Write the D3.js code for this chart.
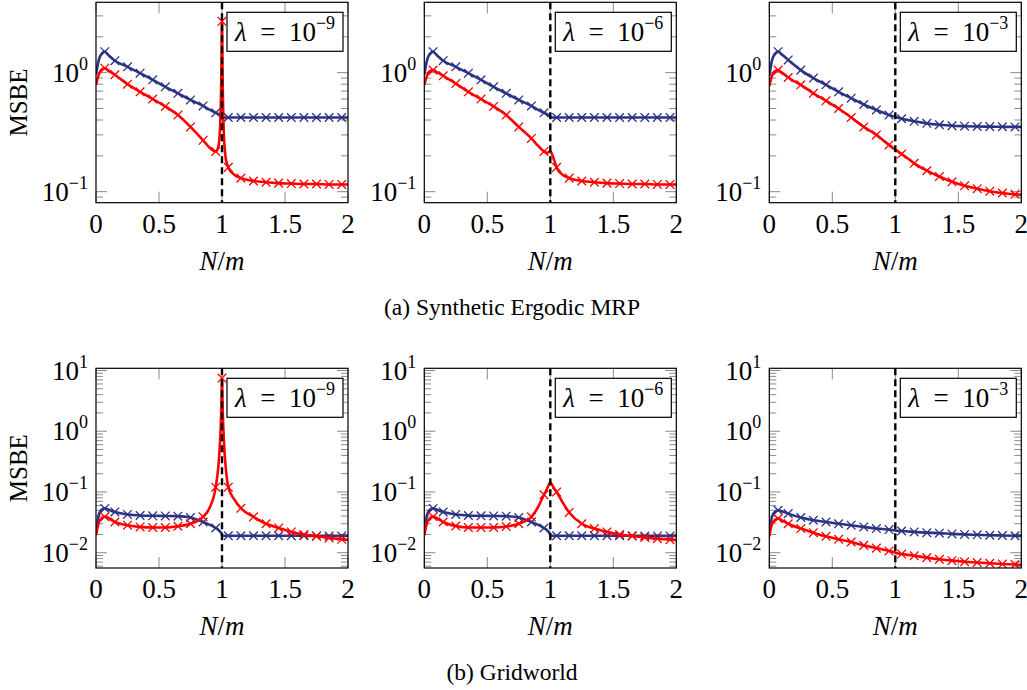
<!DOCTYPE html>
<html>
<head>
<meta charset="utf-8">
<script src="https://cdn.jsdelivr.net/npm/d3@7"></script>
<style>
  body { margin: 0; background: #fff; }
  text { font-family: "Liberation Serif", "Times New Roman", serif; fill: #000; }
</style>
</head>
<body>
<div id="main"></div>
<script>
// sample positions N/m shared by every curve
const xs = [0, 0.02, 0.04, 0.07, 0.1, 0.15, 0.25, 0.35, 0.45, 0.55, 0.65, 0.75, 0.85, 0.9, 0.95, 0.97,
            0.985, 0.995, 1.0, 1.005, 1.015, 1.03, 1.05, 1.1, 1.15, 1.25, 1.35, 1.45, 1.55, 1.65, 1.75,
            1.85, 1.95, 2.0];
// where the x markers sit
const markX = [0.07, 0.15, 0.25, 0.35, 0.45, 0.55, 0.65, 0.75, 0.85, 0.95,
               1.05, 1.15, 1.25, 1.35, 1.45, 1.55, 1.65, 1.75, 1.85, 1.95];
const xTicks = [0, 0.5, 1, 1.5, 2];
const lambdas = ["−9", "−6", "−3"];
const captions = ["(a) Synthetic Ergodic MRP", "(b) Gridworld"];

// (a) Synthetic Ergodic MRP
const a9Blue = [0.96, 1.25, 1.42, 1.5, 1.40, 1.26, 1.12, 0.99, 0.87, 0.76, 0.67, 0.59, 0.525, 0.49, 0.46, 0.45,
                0.44, 0.43, 0.425, 0.42, 0.42, 0.42, 0.42, 0.42, 0.42, 0.42, 0.42, 0.42, 0.42, 0.42, 0.42,
                0.42, 0.42, 0.42];
const a9Red  = [0.79, 0.95, 1.05, 1.09, 1.04, 0.96, 0.80, 0.69, 0.60, 0.52, 0.44, 0.35, 0.27, 0.235, 0.218, 0.235,
                0.35, 1.0, 2.7, 0.9, 0.3, 0.19, 0.16, 0.138, 0.13, 0.123, 0.12, 0.118, 0.117, 0.116, 0.116,
                0.115, 0.115, 0.115];
const a6Blue = [0.96, 1.25, 1.42, 1.5, 1.40, 1.26, 1.12, 0.99, 0.87, 0.76, 0.67, 0.59, 0.525, 0.49, 0.46, 0.45,
                0.44, 0.43, 0.425, 0.42, 0.42, 0.42, 0.42, 0.42, 0.42, 0.42, 0.42, 0.42, 0.42, 0.42, 0.42,
                0.42, 0.42, 0.42];
const a6Red  = [0.79, 0.93, 1.02, 1.05, 1.01, 0.94, 0.81, 0.69, 0.60, 0.52, 0.44, 0.35, 0.28, 0.245, 0.218, 0.212,
                0.214, 0.218, 0.218, 0.215, 0.205, 0.185, 0.16, 0.138, 0.13, 0.123, 0.12, 0.118, 0.117, 0.116, 0.116,
                0.115, 0.115, 0.115];
const a3Blue = [0.93, 1.25, 1.42, 1.5, 1.42, 1.28, 1.05, 0.90, 0.79, 0.69, 0.61, 0.54, 0.486, 0.462, 0.44, 0.434,
                0.43, 0.427, 0.425, 0.423, 0.42, 0.416, 0.41, 0.40, 0.39, 0.375, 0.365, 0.358, 0.355, 0.353, 0.352,
                0.351, 0.35, 0.35];
const a3Red  = [0.77, 0.93, 1.02, 1.05, 1.0, 0.91, 0.79, 0.67, 0.58, 0.50, 0.42, 0.35, 0.30, 0.272, 0.247, 0.238,
                0.232, 0.228, 0.226, 0.224, 0.22, 0.214, 0.207, 0.19, 0.173, 0.15, 0.134, 0.121, 0.112, 0.106, 0.101,
                0.0975, 0.095, 0.094];

// (b) Gridworld
const b9Blue = [0.0206, 0.040, 0.050, 0.0536, 0.051, 0.047, 0.0427, 0.041, 0.0405, 0.0403, 0.040, 0.038, 0.032, 0.029, 0.0255, 0.024,
                0.0222, 0.021, 0.0195, 0.019, 0.019, 0.019, 0.019, 0.019, 0.019, 0.019, 0.019, 0.019, 0.019, 0.019, 0.0189,
                0.0189, 0.0189, 0.0189];
const b9Red  = [0.0194, 0.030, 0.036, 0.039, 0.037, 0.032, 0.0284, 0.0266, 0.026, 0.026, 0.0273, 0.030, 0.039, 0.054, 0.12, 0.25,
                0.7, 2.5, 7.5, 2.5, 0.7, 0.25, 0.12, 0.074, 0.054, 0.039, 0.030, 0.0256, 0.022, 0.0199, 0.0187,
                0.0175, 0.0166, 0.0162];
const b6Blue = [0.0206, 0.040, 0.050, 0.0536, 0.051, 0.047, 0.0427, 0.041, 0.0405, 0.0403, 0.040, 0.038, 0.032, 0.029, 0.0255, 0.024,
                0.0222, 0.021, 0.0195, 0.019, 0.019, 0.019, 0.019, 0.019, 0.019, 0.019, 0.019, 0.019, 0.019, 0.019, 0.0189,
                0.0189, 0.0189, 0.0189];
const b6Red  = [0.0194, 0.030, 0.036, 0.039, 0.037, 0.032, 0.0275, 0.026, 0.026, 0.026, 0.027, 0.030, 0.039, 0.055, 0.09, 0.108,
                0.128, 0.14, 0.143, 0.14, 0.13, 0.115, 0.100, 0.066, 0.046, 0.030, 0.025, 0.022, 0.020, 0.0188, 0.0178,
                0.0170, 0.0164, 0.0161];
const b3Blue = [0.0212, 0.038, 0.046, 0.050, 0.048, 0.044, 0.038, 0.0343, 0.032, 0.030, 0.0284, 0.0266, 0.025, 0.0245, 0.024, 0.0237,
                0.0235, 0.0233, 0.0232, 0.0231, 0.023, 0.0229, 0.0228, 0.0224, 0.022, 0.0214, 0.021, 0.0204, 0.020, 0.0197, 0.0194,
                0.0192, 0.019, 0.0189];
const b3Red  = [0.0186, 0.029, 0.034, 0.0366, 0.034, 0.030, 0.025, 0.0214, 0.0186, 0.0166, 0.015, 0.0132, 0.0119, 0.0113, 0.0107, 0.0105,
                0.0103, 0.0101, 0.0100, 0.0099, 0.0098, 0.0096, 0.0095, 0.0092, 0.0089, 0.0083, 0.0078, 0.0074, 0.0071, 0.0069, 0.0067,
                0.0065, 0.0064, 0.0063];

const blueSeries = [[a9Blue, a6Blue, a3Blue], [b9Blue, b6Blue, b3Blue]];
const redSeries  = [[a9Red, a6Red, a3Red], [b9Red, b6Red, b3Red]];

const W = 1027, H = 690;
const blue = "#2c3384", red = "#ff0000";
const fs = 27;   // tick / label font size

const colLeft = [96, 424.3, 769.3];
const panelW = 252;
const rows = [
  { top: 2.3,   bottom: 202.7, yDomain: [0.0808, 3.9] },
  { top: 368.3, bottom: 568,   yDomain: [0.0056, 10.87] }
];

const svg = d3.select("#main").append("svg")
  .attr("width", W).attr("height", H);

function expLabel(t) {
  const e = Math.round(Math.log10(t));
  return e < 0 ? "−" + Math.abs(e) : String(e);
}

rows.forEach((row, ri) => {
  const y = d3.scaleLog().domain(row.yDomain).range([row.bottom, row.top]);
  const yTicks = y.ticks();
  const majors = yTicks.filter(t => Math.abs(Math.log10(t) - Math.round(Math.log10(t))) < 1e-9);

  colLeft.forEach((x0, ci) => {
    const x = d3.scaleLinear().domain([0, 2]).range([x0, x0 + panelW]);
    const g = svg.append("g");
    const clipId = `clip-${ri}-${ci}`;
    svg.append("clipPath").attr("id", clipId).append("rect")
      .attr("x", x0).attr("y", row.top).attr("width", panelW).attr("height", row.bottom - row.top);

    // ticks (inside, on all four sides)
    yTicks.forEach(t => {
      const len = majors.includes(t) ? 11 : 7;
      [[x0, x0 + len], [x0 + panelW - len, x0 + panelW]].forEach(([a, b]) => {
        g.append("line").attr("x1", a).attr("x2", b).attr("y1", y(t)).attr("y2", y(t))
          .attr("stroke", "#8a8a8a").attr("stroke-width", 1);
      });
    });
    xTicks.forEach(t => {
      [[row.bottom, row.bottom - 11], [row.top, row.top + 11]].forEach(([a, b]) => {
        g.append("line").attr("x1", x(t)).attr("x2", x(t)).attr("y1", a).attr("y2", b)
          .attr("stroke", "#8a8a8a").attr("stroke-width", 1);
      });
    });

    // y tick labels
    majors.forEach(t => {
      const txt = g.append("text").attr("x", x0 - 8).attr("y", y(t) + 9)
        .attr("text-anchor", "end").attr("font-size", fs);
      txt.append("tspan").text("10");
      txt.append("tspan").attr("font-size", 18).attr("dy", -12).text(expLabel(t));
    });
    // x tick labels
    xTicks.forEach(t => {
      g.append("text").attr("x", x(t)).attr("y", row.bottom + 30)
        .attr("text-anchor", "middle").attr("font-size", fs).text(t);
    });

    // curves
    const line = d3.line().x((d, i) => x(xs[i])).y(d => y(d)).curve(d3.curveMonotoneX);
    const plot = g.append("g").attr("clip-path", `url(#${clipId})`);
    [[blueSeries[ri][ci], blue], [redSeries[ri][ci], red]].forEach(([vals, col], si) => {
      plot.append("path").attr("d", line(vals)).attr("fill", "none")
        .attr("stroke", col).attr("stroke-width", 2.6).attr("stroke-linejoin", "round");
      const marks = xs.map((xv, i) => ({ xv, v: vals[i] }))
        .filter(d => markX.includes(d.xv) || (si === 1 && ci === 0 && d.xv === 1.0));
      const s = 4.3;
      marks.forEach(d => {
        const cx = x(d.xv), cy = y(d.v);
        plot.append("path")
          .attr("d", `M${cx - s},${cy - s}L${cx + s},${cy + s}M${cx - s},${cy + s}L${cx + s},${cy - s}`)
          .attr("stroke", col).attr("stroke-width", 1.3).attr("fill", "none");
      });
    });

    // dashed line at N/m = 1
    g.append("line").attr("x1", x(1)).attr("x2", x(1)).attr("y1", row.top).attr("y2", row.bottom)
      .attr("stroke", "#000").attr("stroke-width", 2.4).attr("stroke-dasharray", "7,4");

    // frame
    g.append("rect").attr("x", x0).attr("y", row.top).attr("width", panelW).attr("height", row.bottom - row.top)
      .attr("fill", "none").attr("stroke", "#000").attr("stroke-width", 1.2);

    // lambda box
    const bw = 116, bh = 39;
    const bx = x0 + panelW - 5 - bw, by = row.top + 10;
    g.append("rect").attr("x", bx).attr("y", by).attr("width", bw).attr("height", bh)
      .attr("fill", "#fff").attr("stroke", "#000").attr("stroke-width", 1.2);
    const lt = g.append("text").attr("x", bx + bw / 2).attr("y", by + bh / 2 + 9)
      .attr("text-anchor", "middle").attr("font-size", fs);
    lt.append("tspan").attr("font-style", "italic").text("λ");
    lt.append("tspan").text("\u2002=\u200210");
    lt.append("tspan").attr("font-size", 18).attr("dy", -12).text(lambdas[ci]);

    // x label
    const xl = g.append("text").attr("x", x0 + panelW / 2).attr("y", row.bottom + 67)
      .attr("text-anchor", "middle").attr("font-size", fs);
    xl.append("tspan").attr("font-style", "italic").text("N");
    xl.append("tspan").text("/");
    xl.append("tspan").attr("font-style", "italic").text("m");

    if (ci === 0) {
      svg.append("text")
        .attr("transform", `translate(27,${(row.top + row.bottom) / 2}) rotate(-90)`)
        .attr("text-anchor", "middle").attr("font-size", 25).text("MSBE");
    }
  });

  svg.append("text").attr("x", 512).attr("y", row.bottom + 112)
    .attr("text-anchor", "middle").attr("font-size", 23.5).text(captions[ri]);
});
</script>
</body>
</html>
